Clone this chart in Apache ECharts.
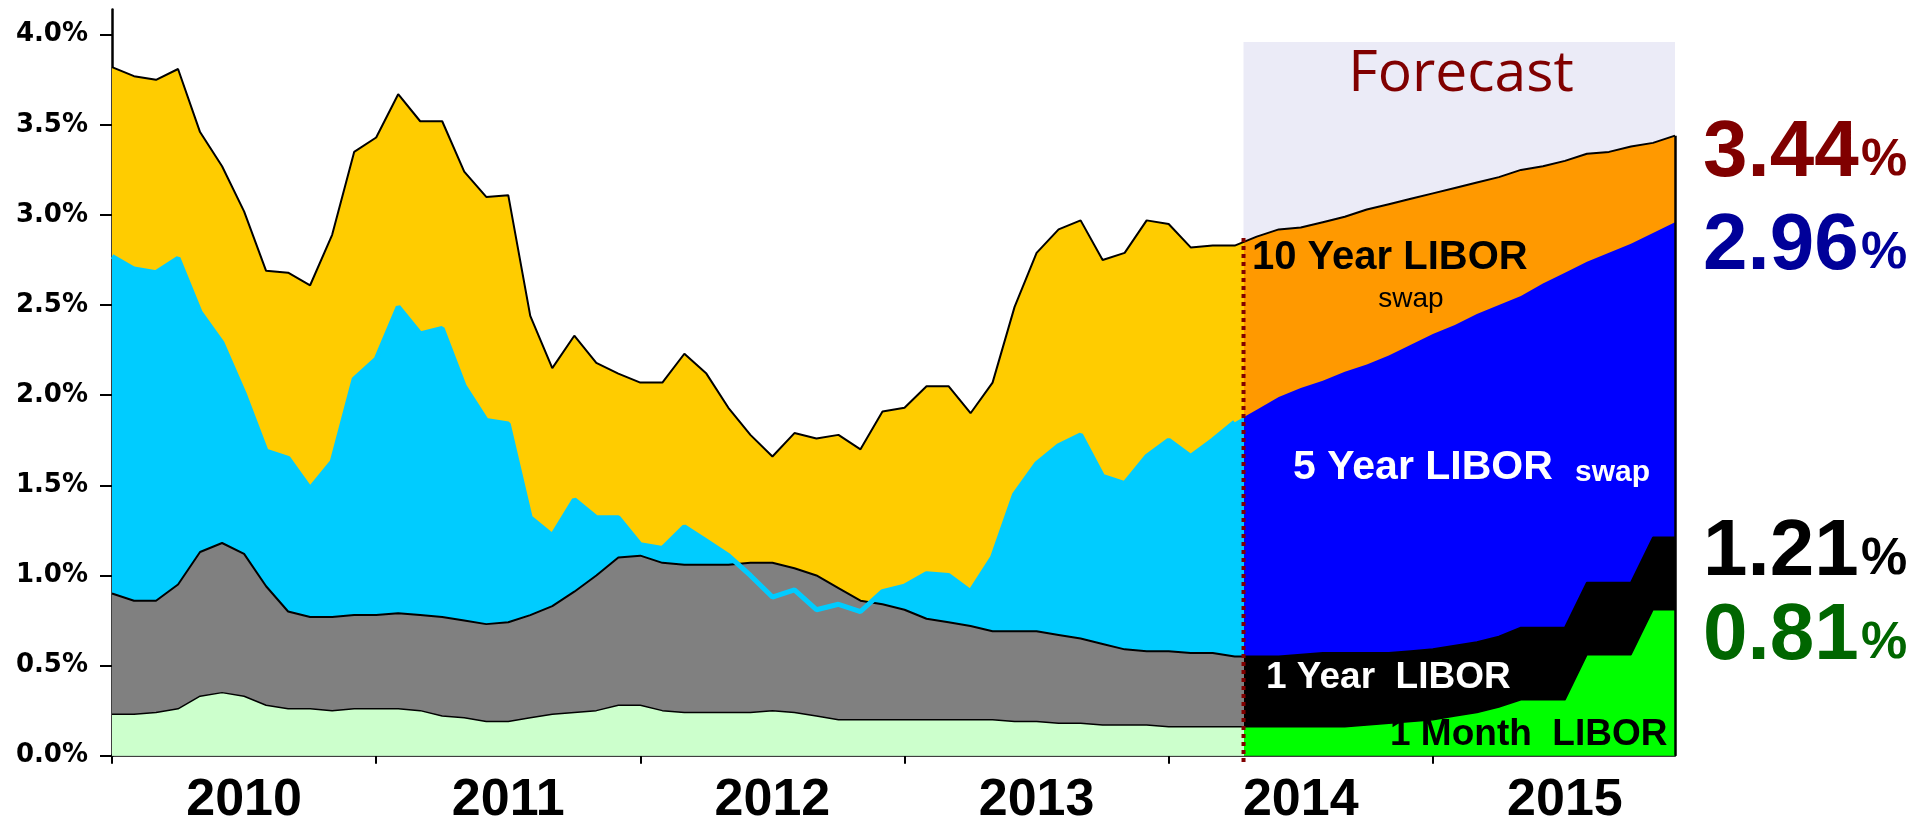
<!DOCTYPE html>
<html>
<head>
<meta charset="utf-8">
<title>LIBOR forecast</title>
<script src="https://cdn.jsdelivr.net/npm/echarts@6.0.0/dist/echarts.min.js"></script>
<style>
  html, body { margin: 0; padding: 0; background: #fff; }
  #chart { width: 1915px; height: 823px; }
</style>
</head>
<body>
<div id="chart"></div>
<script>
// monthly points, index 0 = Jul 2009 ... index 71 = Jun 2015
const yearLabels = ['2010', '2011', '2012', '2013', '2014', '2015'];
const yearLabelIdx = [6, 18, 30, 42, 54, 66];
const xTickIdx = [0, 12, 24, 36, 48, 60];
const yTicks = [0, 0.5, 1, 1.5, 2, 2.5, 3, 3.5, 4];
const forecastFrom = 51.4;
const dividerSpan = [-0.035, 2.88];

const tenYear = [
  3.82, 3.77, 3.75, 3.81, 3.46, 3.27, 3.02, 2.69, 2.68, 2.61, 2.89, 3.35,
  3.43, 3.67, 3.52, 3.52, 3.24, 3.10, 3.11, 2.44, 2.15, 2.33, 2.18, 2.12,
  2.07, 2.07, 2.23, 2.12, 1.93, 1.78, 1.66, 1.79, 1.76, 1.78, 1.70, 1.91,
  1.93, 2.05, 2.05, 1.90, 2.07, 2.49, 2.79, 2.92, 2.97, 2.75, 2.79, 2.97,
  2.95, 2.82, 2.83, 2.83, 2.88, 2.92, 2.93, 2.96, 2.99, 3.03, 3.06, 3.09,
  3.12, 3.15, 3.18, 3.21, 3.25, 3.27, 3.30, 3.34, 3.35, 3.38, 3.40, 3.44
];
const fiveYear = [
  2.77, 2.70, 2.68, 2.76, 2.46, 2.29, 2.01, 1.69, 1.65, 1.48, 1.63, 2.09,
  2.20, 2.49, 2.34, 2.37, 2.05, 1.86, 1.84, 1.32, 1.22, 1.42, 1.32, 1.32,
  1.17, 1.15, 1.27, 1.19, 1.11, 1.00, 0.88, 0.92, 0.81, 0.84, 0.80, 0.91,
  0.94, 1.01, 1.00, 0.91, 1.10, 1.45, 1.62, 1.72, 1.78, 1.55, 1.51, 1.66,
  1.75, 1.66, 1.75, 1.85, 1.92, 1.99, 2.04, 2.08, 2.13, 2.17, 2.22, 2.28,
  2.34, 2.39, 2.45, 2.50, 2.55, 2.62, 2.68, 2.74, 2.79, 2.84, 2.90, 2.96
];
const oneYear = [
  0.90, 0.86, 0.86, 0.95, 1.13, 1.18, 1.12, 0.94, 0.80, 0.77, 0.77, 0.78,
  0.78, 0.79, 0.78, 0.77, 0.75, 0.73, 0.74, 0.78, 0.83, 0.91, 1.00, 1.10,
  1.11, 1.07, 1.06, 1.06, 1.06, 1.07, 1.07, 1.04, 1.00, 0.93, 0.86, 0.84,
  0.81, 0.76, 0.74, 0.72, 0.69, 0.69, 0.69, 0.67, 0.65, 0.62, 0.59, 0.58,
  0.58, 0.57, 0.57, 0.55, 0.55, 0.55, 0.56, 0.57, 0.57, 0.57, 0.57, 0.58,
  0.59, 0.61, 0.63, 0.66, 0.71, 0.71, 0.71, 0.96, 0.96, 0.96, 1.21, 1.21
];
const oneMonth = [
  0.23, 0.23, 0.24, 0.26, 0.33, 0.35, 0.33, 0.28, 0.26, 0.26, 0.25, 0.26,
  0.26, 0.26, 0.25, 0.22, 0.21, 0.19, 0.19, 0.21, 0.23, 0.24, 0.25, 0.28,
  0.28, 0.25, 0.24, 0.24, 0.24, 0.24, 0.25, 0.24, 0.22, 0.20, 0.20, 0.20,
  0.20, 0.20, 0.20, 0.20, 0.20, 0.19, 0.19, 0.18, 0.18, 0.17, 0.17, 0.17,
  0.16, 0.16, 0.16, 0.16, 0.16, 0.16, 0.16, 0.16, 0.16, 0.17, 0.18, 0.19,
  0.20, 0.22, 0.24, 0.27, 0.31, 0.31, 0.31, 0.56, 0.56, 0.56, 0.81, 0.81
];

const pairs = (arr) => arr.map((v, i) => [i, v]);
const last = tenYear.length - 1;

function areaSeries(name, data, line) {
  return {
    name: name,
    type: 'line',
    data: pairs(data),
    symbol: 'none',
    lineStyle: line,
    areaStyle: { opacity: 1 },
    emphasis: { disabled: true },
    silent: true
  };
}

// history colour before the forecast start, forecast colour after it
function split(seriesIndex, before, after) {
  return {
    type: 'piecewise', show: false, seriesIndex: seriesIndex, dimension: 0,
    pieces: [
      { gte: -10, lt: forecastFrom, color: before },
      { gte: forecastFrom, lte: 200, color: after }
    ],
    outOfRange: { color: before }
  };
}

const s10 = areaSeries('10 Year LIBOR swap', tenYear, { color: '#000', width: 2 });
s10.markArea = {
  silent: true,
  itemStyle: { color: '#EBEBF7' },
  data: [[{ xAxis: forecastFrom, yAxis: 3.96 }, { xAxis: last, yAxis: 0 }]]
};

const s1m = areaSeries('1 Month LIBOR', oneMonth, { color: '#000', width: 1.5 });
// closing edge at the end of the forecast
s1m.markLine = {
  silent: true,
  symbol: 'none',
  label: { show: false },
  lineStyle: { color: '#000', width: 2.5, type: 'solid' },
  data: [[{ coord: [last, 0] }, { coord: [last, tenYear[last]] }]]
};

const option = {
  animation: false,
  grid: { left: 112, right: 240, top: 9.5, bottom: 67.3, outerBoundsMode: 'none', containLabel: false },
  xAxis: {
    type: 'value', min: 0, max: last, interval: 12,
    axisLine: { lineStyle: { color: '#000', width: 2.5 } },
    axisTick: { customValues: xTickIdx, length: 8, lineStyle: { color: '#000', width: 2 } },
    axisLabel: {
      customValues: yearLabelIdx,
      formatter: (v) => yearLabels[yearLabelIdx.indexOf(v)] || '',
      fontFamily: 'Liberation Sans', fontWeight: 'bold', fontSize: 52, color: '#000', margin: 19
    },
    splitLine: { show: false }
  },
  yAxis: {
    type: 'value', min: 0, max: 4.14, interval: 0.5,
    axisLine: { show: true, lineStyle: { color: '#000', width: 2.5 } },
    axisTick: { show: true, customValues: yTicks, length: 12, lineStyle: { color: '#000', width: 2 } },
    axisLabel: {
      customValues: yTicks,
      formatter: (v) => (v > 4.001 ? '' : v.toFixed(1) + '%'),
      fontFamily: 'DejaVu Sans', fontWeight: 'bold', fontSize: 26, color: '#000', margin: 24
    },
    splitLine: { show: false }
  },
  visualMap: [
    split(0, '#FFCC00', '#FF9900'),
    split(1, '#00CCFF', '#0000FF'),
    split(2, '#808080', '#000000'),
    split(3, '#CCFFCC', '#00FF00')
  ],
  series: [
    s10,
    areaSeries('5 Year LIBOR swap', fiveYear, { width: 0, opacity: 0 }),
    areaSeries('1 Year LIBOR', oneYear, { color: '#000', width: 2 }),
    s1m,
    {
      // 5 year line stays visible where it dips under the 1 year area
      name: '5 Year line',
      type: 'line',
      z: 3,
      data: pairs(fiveYear).filter((p) => p[0] <= 51),
      symbol: 'none',
      lineStyle: { color: '#00CCFF', width: 5 },
      emphasis: { disabled: true },
      silent: true
    },
    {
      // dotted divider where the forecast starts
      name: 'forecast start',
      type: 'line',
      z: 6,
      clip: false,
      data: dividerSpan.map((v) => [forecastFrom, v]),
      symbol: 'none',
      lineStyle: { color: '#800000', width: 4, type: 'dotted' },
      emphasis: { disabled: true },
      silent: true
    }
  ],
  graphic: [
    { type: 'text', z: 100, x: 1461, y: 75, style: { text: 'Forecast', fill: '#800000', font: '57px "Open Sans"', align: 'center', verticalAlign: 'middle' } },
    { type: 'text', z: 100, x: 1252, y: 258, style: { text: '10 Year LIBOR', fill: '#000', font: 'bold 40px "Liberation Sans"', align: 'left', verticalAlign: 'middle' } },
    { type: 'text', z: 100, x: 1411, y: 299, style: { text: 'swap', fill: '#000', font: '28px "Liberation Sans"', align: 'center', verticalAlign: 'middle' } },
    { type: 'text', z: 100, x: 1293, y: 468, style: { text: '5 Year LIBOR', fill: '#fff', font: 'bold 41px "Liberation Sans"', align: 'left', verticalAlign: 'middle' } },
    { type: 'text', z: 100, x: 1575, y: 473, style: { text: 'swap', fill: '#fff', font: 'bold 30px "Liberation Sans"', align: 'left', verticalAlign: 'middle' } },
    { type: 'text', z: 100, x: 1266, y: 678, style: { text: '1 Year  LIBOR', fill: '#fff', font: 'bold 37px "Liberation Sans"', align: 'left', verticalAlign: 'middle' } },
    { type: 'text', z: 100, x: 1390, y: 735, style: { text: '1 Month  LIBOR', fill: '#000', font: 'bold 37px "Liberation Sans"', align: 'left', verticalAlign: 'middle' } }
  ]
};

// end-of-forecast values at the right
const endValues = [
  { v: tenYear[last], color: '#800000', y: 154 },
  { v: fiveYear[last], color: '#000099', y: 247 },
  { v: oneYear[last], color: '#000000', y: 553 },
  { v: oneMonth[last], color: '#006600', y: 637 }
];
endValues.forEach((e) => {
  option.graphic.push(
    { type: 'text', z: 100, x: 1703, y: e.y, style: { text: e.v.toFixed(2), fill: e.color, font: 'bold 80px "Liberation Sans"', align: 'left', verticalAlign: 'middle' } },
    { type: 'text', z: 100, x: 1861, y: e.y + 7, style: { text: '%', fill: e.color, font: 'bold 52px "Liberation Sans"', align: 'left', verticalAlign: 'middle' } }
  );
});

const chart = echarts.init(document.getElementById('chart'), null, { renderer: 'canvas' });
chart.setOption(option);
</script>
</body>
</html>
